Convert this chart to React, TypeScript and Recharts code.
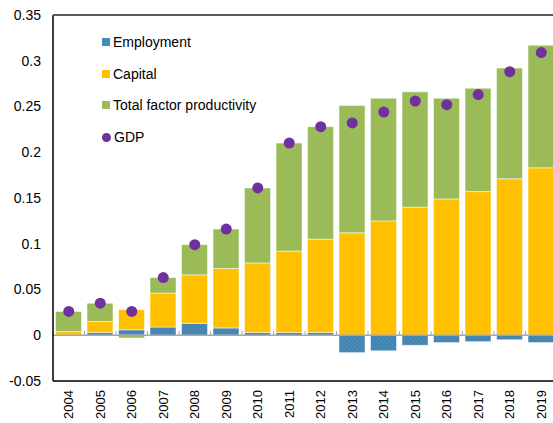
import React from 'react';
import { ComposedChart, Bar, Line, XAxis, YAxis, ReferenceLine } from 'recharts';

const years = ['2004', '2005', '2006', '2007', '2008', '2009', '2010', '2011', '2012', '2013', '2014', '2015', '2016', '2017', '2018', '2019'];
const employment = [0, 0.003, 0.006, 0.009, 0.013, 0.008, 0.003, 0.003, 0.003, -0.019, -0.017, -0.011, -0.008, -0.007, -0.005, -0.008];
const capital = [0.004, 0.012, 0.022, 0.037, 0.053, 0.065, 0.076, 0.089, 0.102, 0.112, 0.125, 0.14, 0.149, 0.157, 0.171, 0.183];
const tfp = [0.022, 0.02, -0.003, 0.017, 0.033, 0.043, 0.082, 0.118, 0.123, 0.139, 0.134, 0.126, 0.11, 0.113, 0.121, 0.134];
const gdp = [0.026, 0.035, 0.026, 0.063, 0.099, 0.116, 0.161, 0.21, 0.228, 0.232, 0.244, 0.256, 0.252, 0.263, 0.288, 0.309];
const yTicks = [-0.05, 0, 0.05, 0.1, 0.15, 0.2, 0.25, 0.3, 0.35];

const legendItems = [
  { name: 'Employment', color: '#4a8ab6', shape: 'square' },
  { name: 'Capital', color: '#ffc000', shape: 'square' },
  { name: 'Total factor productivity', color: '#9bbb59', shape: 'square' },
  { name: 'GDP', color: '#7030a0', shape: 'circle' },
];

const data = years.map((year, i) => ({
  year,
  employment: employment[i],
  capital: capital[i],
  tfp: tfp[i],
  gdp: gdp[i],
}));

const FONT = '"Liberation Sans", Arial, sans-serif';

function YearTick(props: any) {
  const { x, y, payload } = props;
  const ty = y + 1;
  return (
    <text
      x={x}
      y={ty}
      transform={`rotate(-90, ${x}, ${ty})`}
      textAnchor="end"
      dy="0.35em"
      fontSize={13}
      fontFamily={FONT}
      fill="#000"
    >
      {payload.value}
    </text>
  );
}

// zero line with small marks between the categories
function ZeroLine(props: any) {
  const { x1, y1, x2, y2 } = props;
  const step = (x2 - x1) / years.length;
  const marks = [];
  for (let i = 0; i <= years.length; i++) {
    const x = x1 + i * step;
    marks.push(<line key={i} x1={x} x2={x} y1={y1} y2={y1 - 4} stroke="#a6a6a6" strokeWidth={1} />);
  }
  return (
    <g>
      <line x1={x1} y1={y1} x2={x2} y2={y2} stroke="#a6a6a6" strokeWidth={1.5} />
      {marks}
    </g>
  );
}

export default function App() {
  return (
    <div style={{ position: 'absolute', left: 0, top: 0, width: 553, height: 423, overflow: 'hidden', background: '#fff' }}>
      <svg width={0} height={0} style={{ position: 'absolute' }}>
        <defs>
          <pattern id="empHatch" width={4} height={4} patternUnits="userSpaceOnUse">
            <rect width={4} height={4} fill="#4a8ab6" />
            <path d="M0,4 L4,0" stroke="#3f7ba5" strokeWidth={1} />
          </pattern>
        </defs>
      </svg>
      <ComposedChart
        width={560}
        height={423}
        data={data}
        stackOffset="sign"
        barCategoryGap="8%"
        margin={{ top: 15, right: 3, bottom: 0, left: 0 }}
      >
        <XAxis
          dataKey="year"
          height={42}
          tick={<YearTick />}
          tickLine={false}
          interval={0}
          axisLine={{ stroke: '#000', strokeWidth: 1.5 }}
        />
        <YAxis
          width={53}
          domain={[-0.05, 0.35]}
          ticks={yTicks}
          tickFormatter={(v: number) => String(Number(v.toFixed(2)))}
          tickLine={false}
          tickSize={0}
          tickMargin={12}
          axisLine={{ stroke: '#000', strokeWidth: 1.5 }}
          tick={{ fontSize: 14, fontFamily: FONT, fill: '#000' }}
          allowDataOverflow
        />
        <Bar dataKey="employment" stackId="a" fill="url(#empHatch)" stroke="rgba(255,255,255,0.5)" isAnimationActive={false} />
        <Bar dataKey="capital" stackId="a" fill="#ffc000" stroke="rgba(255,255,255,0.5)" isAnimationActive={false} />
        <Bar dataKey="tfp" stackId="a" fill="#9bbb59" stroke="rgba(255,255,255,0.5)" isAnimationActive={false} />
        <ReferenceLine y={0} shape={<ZeroLine />} />
        <Line
          dataKey="gdp"
          stroke="none"
          dot={{ r: 5.5, fill: '#7030a0', stroke: 'none' }}
          activeDot={false}
          isAnimationActive={false}
        />
      </ComposedChart>
      {/* top border of the plot box */}
      <div style={{ position: 'absolute', left: 53, top: 14, width: 510, height: 2, background: '#595959' }} />
      <div style={{ position: 'absolute', left: 102, top: 33, fontFamily: FONT, fontSize: 14, color: '#000' }}>
        {legendItems.map((item) => (
          <div key={item.name} style={{ display: 'flex', alignItems: 'center', height: 31.7 - 13.7, marginBottom: 13.7 }}>
            <span
              style={{
                display: 'inline-block',
                width: item.shape === 'circle' ? 9 : 8,
                height: item.shape === 'circle' ? 9 : 8,
                borderRadius: item.shape === 'circle' ? '50%' : 0,
                background: item.color,
                marginRight: 3,
              }}
            />
            <span style={{ whiteSpace: 'nowrap' }}>{item.name}</span>
          </div>
        ))}
      </div>
    </div>
  );
}
